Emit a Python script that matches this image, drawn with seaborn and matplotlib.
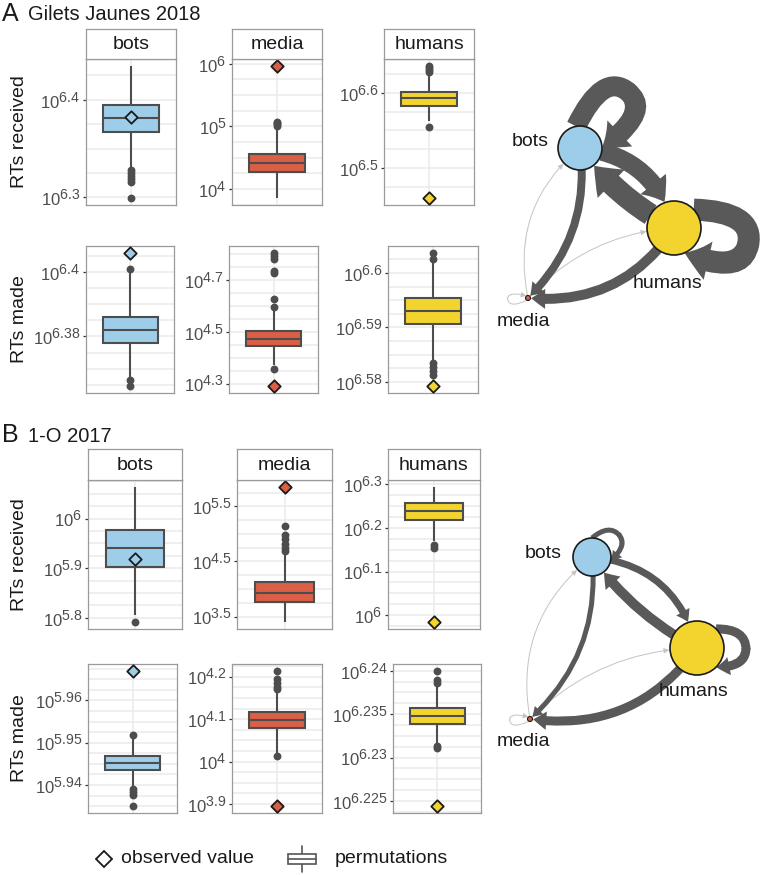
import numpy as np
import seaborn as sns
import matplotlib.pyplot as plt
import matplotlib._mathtext as mathtext_internal
from matplotlib.patches import Circle, FancyArrowPatch, Rectangle, ArrowStyle, PathPatch
from matplotlib.path import Path

# ---- data (all values are log10 of the number of RTs) ----
groups = ["bots", "media", "humans"]
group_colors = ["#9ECDEA", "#DA5F45", "#F3D42F"]

# box = [lower whisker, Q1, median, Q3, upper whisker] of the permutations
gj_recv_box = [[6.330, 6.367, 6.381, 6.395, 6.435],
               [3.85, 4.27, 4.41, 4.56, 4.97],
               [6.563, 6.583, 6.5925, 6.601, 6.624]]
gj_recv_out = [[6.328, 6.325, 6.322, 6.319, 6.316, 6.299],
               [5.00, 5.03, 5.05, 5.07],
               [6.636, 6.633, 6.630, 6.627, 6.555]]
gj_recv_obs = [6.382, 5.97, 6.46]
gj_recv_ticks = [["6.3", "6.4"], ["4", "5", "6"], ["6.5", "6.6"]]

gj_made_box = [[6.3672, 6.3781, 6.3821, 6.3861, 6.3995],
               [4.373, 4.444, 4.474, 4.503, 4.581],
               [6.5840, 6.5906, 6.5931, 6.5954, 6.6022]]
gj_made_out = [[6.4008, 6.3664, 6.3646],
               [4.805, 4.792, 4.779, 4.733, 4.727, 4.627, 4.594, 4.356],
               [6.6037, 6.6025, 6.5834, 6.5828, 6.5821, 6.5813]]
gj_made_obs = [6.4059, 4.290, 6.5792]
gj_made_ticks = [["6.38", "6.4"], ["4.3", "4.5", "4.7"], ["6.58", "6.59", "6.6"]]

oct_recv_box = [[5.806, 5.903, 5.941, 5.977, 6.064],
                [3.396, 3.757, 3.935, 4.128, 4.667],
                [6.170, 6.217, 6.238, 6.256, 6.294]]
oct_recv_out = [[5.791],
                [5.15, 4.976, 4.90, 4.82, 4.75, 4.697],
                [6.160, 6.154]]
oct_recv_obs = [5.919, 5.857, 5.984]
oct_recv_ticks = [["5.8", "5.9", "6"], ["3.5", "4.5", "5.5"], ["6", "6.1", "6.2", "6.3"]]

oct_made_box = [[5.9394, 5.9436, 5.9453, 5.9468, 5.9510],
                [4.021, 4.079, 4.098, 4.116, 4.166],
                [6.2317, 6.2339, 6.2348, 6.2357, 6.2381]]
oct_made_out = [[5.9518, 5.9390, 5.9383, 5.9376, 5.9350],
                [4.214, 4.194, 4.185, 4.176, 4.170, 4.013],
                [6.2400, 6.2389, 6.2386, 6.2313, 6.2311]]
oct_made_obs = [5.967, 3.895, 6.2244]
oct_made_ticks = [["5.94", "5.95", "5.96"], ["3.9", "4", "4.1", "4.2"], ["6.225", "6.23", "6.235", "6.24"]]

# RT network: edge widths (px) and node radii (px), order bots, media, humans
edge_pairs = [("media", "media"), ("media", "bots"), ("media", "humans"),
              ("bots", "media"), ("humans", "media"), ("bots", "humans"),
              ("humans", "bots"), ("bots", "bots"), ("humans", "humans")]
gj_edge_w = [1, 1, 1, 8, 10, 18, 22, 20, 22]
oct_edge_w = [1, 1, 1, 5, 9, 7, 10, 5, 9]
gj_node_r = [22, 2.5, 27]
oct_node_r = [19, 2.5, 27]

# ---- layout (figure pixels) ----
W, H = 762, 875
DARK = "#4D4D4D"
row_y = [(59, 205), (246, 393), (480, 629), (664, 813)]
row_x = [[(86, 176), (232, 322), (384, 474)],
         [(86, 174), (229, 318), (388, 478)],
         [(88, 182), (237, 332), (388, 480)],
         [(88, 177), (232, 322), (393, 481)]]
strip_y = {0: (29, 59), 2: (449, 480)}

gj_pos = {"bots": (580, 148), "media": (528, 298), "humans": (674, 228)}
oct_pos = {"bots": (592, 557), "media": (530, 719), "humans": (697, 648)}
gj_lab = {"bots": (530, 142), "media": (523, 322), "humans": (667, 284)}
oct_lab = {"bots": (543, 553), "media": (523, 741), "humans": (693, 692)}
bend = {("media", "bots"): .3, ("media", "humans"): .2, ("bots", "media"): .25,
        ("humans", "media"): .3, ("bots", "humans"): .35, ("humans", "bots"): .12}
# loop: direction (deg), half spread on the node (deg), length beyond the node (px)
gj_loop = {"bots": (50, 50, 52), "humans": (-12, 55, 49), "media": (185, 60, 18)}
oct_loop = {"bots": (40, 50, 16), "humans": (0, 45, 22), "media": (185, 60, 18)}

sns.set_style("white")
plt.rcParams["font.family"] = ["Liberation Sans", "DejaVu Sans"]
# ggplot-like exponents: almost full size
mathtext_internal.SHRINK_FACTOR = 0.85

fig = plt.figure(figsize=(W / 100, H / 100), dpi=100)


def px_axes(x0, x1, y0, y1):
    return fig.add_axes([x0 / W, 1 - y1 / H, (x1 - x0) / W, (y1 - y0) / H])


def draw_panel(ax, box, out, obs, color, ticks):
    sns.boxplot(y=box, color=color, saturation=1, width=0.75, whis=(0, 100),
                linecolor=DARK, linewidth=1.5, showcaps=False, ax=ax)
    sns.scatterplot(x=np.zeros(len(out)), y=out, color=DARK, s=32, linewidth=0,
                    ax=ax, zorder=4)
    sns.scatterplot(x=[0], y=[obs], marker="D", s=40, color=color,
                    edgecolor="#1A1A1A", linewidth=1.3, ax=ax, zorder=5)
    vals = box + out + [obs]
    lo, hi = min(vals), max(vals)
    pad = 0.05 * (hi - lo)
    ax.set_ylim(lo - pad, hi + pad)
    ax.set_xlim(-0.6, 0.6)
    major = [float(t) for t in ticks]
    ax.set_yticks(major, labels=[r"$\mathregular{10^{%s}}$" % t for t in ticks])
    step = (major[1] - major[0]) / 4
    minor = np.arange(major[0] - 12 * step, major[-1] + 12 * step, step)
    ax.set_yticks(minor[(minor > lo - pad) & (minor < hi + pad)], minor=True)
    ax.set_xticks([])
    ax.set_xlabel("")
    ax.set_ylabel("")
    ax.grid(True, axis="y", which="both", color="#EBEBEB", lw=1.1)
    ax.axvline(0, color="#EBEBEB", lw=1.1, zorder=0.6)
    ax.set_axisbelow(True)
    ax.tick_params(axis="y", which="major", length=2.5, width=0.9, color="#333333",
                   labelsize=12, labelcolor=DARK, pad=1.5, left=True)
    ax.tick_params(axis="y", which="minor", length=0)
    for s in ax.spines.values():
        s.set_color("#9A9A9A")
        s.set_linewidth(0.9)


panels = [(gj_recv_box, gj_recv_out, gj_recv_obs, gj_recv_ticks),
          (gj_made_box, gj_made_out, gj_made_obs, gj_made_ticks),
          (oct_recv_box, oct_recv_out, oct_recv_obs, oct_recv_ticks),
          (oct_made_box, oct_made_out, oct_made_obs, oct_made_ticks)]

for r, (boxes, outs, obss, tks) in enumerate(panels):
    y0, y1 = row_y[r]
    for c in range(3):
        x0, x1 = row_x[r][c]
        ax = px_axes(x0, x1, y0, y1)
        draw_panel(ax, boxes[c], outs[c], obss[c], group_colors[c], tks[c])
        if r in strip_y:
            sa = px_axes(x0, x1, *strip_y[r])
            sa.set_xticks([])
            sa.set_yticks([])
            for s in sa.spines.values():
                s.set_color("#9A9A9A")
                s.set_linewidth(0.9)
            sa.text(0.5, 0.47, groups[c], ha="center", va="center",
                    fontsize=14, color="#1A1A1A", transform=sa.transAxes)

# overlay in figure pixel coordinates for titles, networks and legend
ov = fig.add_axes([0, 0, 1, 1])
ov.set_xlim(0, W)
ov.set_ylim(H, 0)
ov.axis("off")

for r, lab in enumerate(["RTs received", "RTs made", "RTs received", "RTs made"]):
    ov.text(20, sum(row_y[r]) / 2, lab, rotation=90, ha="center", va="center",
            fontsize=14, color="#1A1A1A")

ov.text(2, 21, "A", fontsize=18, color="#1A1A1A", va="baseline")
ov.text(28, 20.5, "Gilets Jaunes 2018", fontsize=14.5, color="#1A1A1A", va="baseline")
ov.text(2, 442, "B", fontsize=18, color="#1A1A1A", va="baseline")
ov.text(28, 441.5, "1-O 2017", fontsize=14.5, color="#1A1A1A", va="baseline")


def unit(deg):
    a = np.deg2rad(deg)
    return np.array([np.cos(a), -np.sin(a)])  # y grows downwards


def draw_network(pos, radii, widths, loops, lab_pos):
    rad_of = dict(zip(groups, radii))
    order = np.argsort(widths, kind="stable")
    for i in order:
        src, dst = edge_pairs[i]
        w = widths[i]
        col = "#C4C4C4" if w <= 1 else "#595959"
        lw_pt = w * 0.72 if w > 1 else 0.7
        style = ArrowStyle.Simple(head_length=(0.9 * w + 5) * 0.72,
                                  head_width=(1.6 * w + 4) * 0.72,
                                  tail_width=lw_pt)
        if src == dst:
            # self loop: stroked first half, arrow on the second half
            c = np.array(pos[src], float)
            rr = rad_of[src]
            phi, spread, ext = loops[src]
            p0 = c + rr * unit(phi + spread)
            apex = c + (rr + ext) * unit(phi)
            p2 = c + rr * unit(phi - spread)
            t = 0.45 * ext + 0.5 * rr * np.sin(np.deg2rad(spread))
            c1 = apex + t * unit(phi + 90)
            c2 = apex + t * unit(phi - 90)
            codes = [Path.MOVETO, Path.CURVE3, Path.CURVE3]
            ov.add_patch(PathPatch(Path([p0, c1, apex + 1.5 * unit(phi - 90)], codes),
                                   fill=False, edgecolor=col, lw=lw_pt,
                                   capstyle="butt", zorder=2))
            arr = FancyArrowPatch(path=Path([apex, c2, p2], codes), arrowstyle=style,
                                  mutation_scale=1, color=col, lw=0, zorder=2)
        else:
            arr = FancyArrowPatch(posA=pos[src], posB=pos[dst], arrowstyle=style,
                                  connectionstyle="arc3,rad=%.3f" % (-bend[(src, dst)]),
                                  shrinkA=rad_of[src] * 0.72, shrinkB=rad_of[dst] * 0.72 + 0.5,
                                  mutation_scale=1, color=col, lw=0, zorder=2)
        ov.add_patch(arr)
    for g, colr in zip(groups, group_colors):
        ov.add_patch(Circle(pos[g], rad_of[g], facecolor=colr, edgecolor="#1A1A1A",
                            lw=1.2 if rad_of[g] > 5 else 0.8, zorder=5))
        ov.text(*lab_pos[g], g, ha="center", va="center", fontsize=14, color="#1A1A1A")


draw_network(gj_pos, gj_node_r, gj_edge_w, gj_loop, gj_lab)
draw_network(oct_pos, oct_node_r, oct_edge_w, oct_loop, oct_lab)

# legend
ov.plot(104, 859, marker="D", ms=8, mfc="white", mec="#1A1A1A", mew=1.3)
ov.text(121, 858.5, "observed value", fontsize=14, color="#1A1A1A", va="center")
ov.plot([302, 302], [846, 872], color="#555555", lw=1.2, zorder=2)
ov.add_patch(Rectangle((288, 854), 28, 10, facecolor="white", edgecolor="#555555", lw=1.2, zorder=3))
ov.plot([288, 316], [859, 859], color="#555555", lw=1.2, zorder=4)
ov.text(335, 858.5, "permutations", fontsize=14, color="#1A1A1A", va="center")

fig.savefig("out.png", dpi=100)
